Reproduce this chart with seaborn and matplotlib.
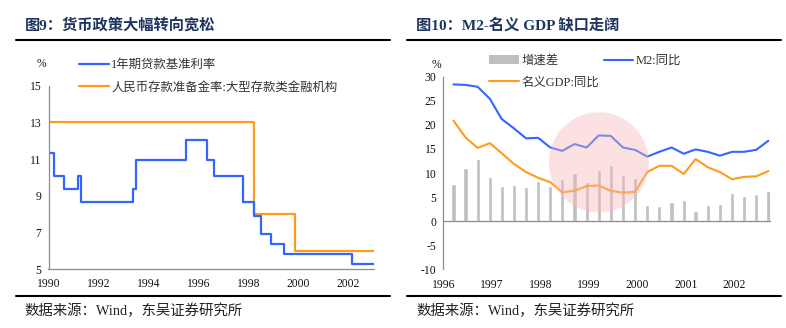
import numpy as np
import pandas as pd
import matplotlib
matplotlib.use("Agg")
import matplotlib.pyplot as plt
from matplotlib.lines import Line2D
from matplotlib.patches import Ellipse, Patch
import seaborn as sns

# ---------------- data ----------------
# 1-year benchmark lending rate, adjustment dates and new levels (%)
loan_dates = ['1990-01-01', '1990-03-21', '1990-08-21', '1991-03-10', '1991-04-21',
              '1993-05-15', '1993-07-11', '1995-07-01', '1996-05-01', '1996-08-23',
              '1997-10-23', '1998-03-25', '1998-07-01', '1998-12-07', '1999-06-10',
              '2002-02-21', '2003-01-15']
loan_rate = [11.34, 10.08, 9.36, 10.08, 8.64,
             9.36, 10.98, 12.06, 10.98, 10.08,
             8.64, 7.92, 6.93, 6.39, 5.85,
             5.31, 5.31]

# Required reserve ratio, large depository institutions (%)
rrr_dates = ['1990-01-01', '1998-03-21', '1999-11-21', '2003-01-15']
rrr_rate = [13, 8, 6, 6]

# Quarterly M2 and nominal GDP growth (% y/y), 1996Q1 - 2002Q3
quarters = pd.period_range('1996Q1', '2002Q3', freq='Q')
m2_yoy = [28.4, 28.3, 27.9, 25.4, 21.2, 19.3, 17.2, 17.3, 15.3, 14.6,
          16.0, 15.3, 17.8, 17.7, 15.3, 14.8, 13.4, 14.4, 15.3, 14.0,
          14.9, 14.4, 13.6, 14.4, 14.4, 14.8, 16.7]
gdp_yoy = [20.9, 17.4, 15.2, 16.2, 14.1, 11.9, 10.2, 9.0, 8.1, 6.0,
           6.3, 7.3, 7.4, 6.3, 5.9, 6.1, 10.2, 11.5, 11.5, 9.8,
           12.9, 11.2, 10.2, 8.7, 9.2, 9.3, 10.4]
gap = [7.7, 11.0, 12.9, 9.2, 7.2, 7.5, 7.0, 8.4, 7.4, 8.8,
       9.9, 8.1, 10.7, 11.6, 9.6, 8.9, 3.4, 3.1, 3.9, 4.3,
       2.1, 3.3, 3.5, 5.9, 5.2, 5.6, 6.3]

left_years = [1990, 1992, 1994, 1996, 1998, 2000, 2002]
left_yticks = [5, 7, 9, 11, 13, 15]
right_years = [1996, 1997, 1998, 1999, 2000, 2001, 2002]
right_yticks = [-10, -5, 0, 5, 10, 15, 20, 25, 30]

title_left = '图9：货币政策大幅转向宽松'
title_right = '图10：M2-名义 GDP 缺口走阔'
source = '数据来源：Wind，东吴证券研究所'


def decimal_year(ts):
    ts = pd.to_datetime(ts)
    return ts.year + (ts.dayofyear - 1) / 365.25


# ---------------- style ----------------
sns.set_theme(style='white')
plt.rcParams['font.family'] = ['Liberation Serif', 'Noto Sans CJK SC', 'DejaVu Sans']
plt.rcParams['axes.unicode_minus'] = False

BLUE = '#3366ff'
ORANGE = '#ff9c1a'
GREY_BAR = '#bfbfbf'
SPINE = '#8c8c8c'
NAVY = '#1f3560'
TXT = '#333333'
TICK_FS = 8.4

fig = plt.figure(figsize=(7.86, 3.28), dpi=100)
W, H = 786, 328


def fx(px):
    return px / W


def fy(py):
    return 1 - py / H


# ---------------- left panel ----------------
ax1 = fig.add_axes([fx(48.5), fy(269.3), fx(374.3 - 48.5), (269.3 - 85.7) / H])
loan_df = pd.DataFrame({'x': decimal_year(loan_dates), 'rate': loan_rate})
rrr_df = pd.DataFrame({'x': decimal_year(rrr_dates), 'rate': rrr_rate})
sns.lineplot(data=rrr_df, x='x', y='rate', ax=ax1, color=ORANGE, lw=1.6,
             drawstyle='steps-post', label='人民币存款准备金率:大型存款类金融机构')
sns.lineplot(data=loan_df, x='x', y='rate', ax=ax1, color=BLUE, lw=1.6,
             drawstyle='steps-post', label='1年期贷款基准利率')
ax1.set_xlim(1990, 2003.05)
ax1.set_ylim(5, 15)
ax1.set_xticks(left_years)
ax1.set_xticklabels([str(y) for y in left_years])
ax1.set_yticks(left_yticks)
ax1.set_xlabel('')
ax1.set_ylabel('')
for s in ['top', 'right']:
    ax1.spines[s].set_visible(False)
for s in ['left', 'bottom']:
    ax1.spines[s].set_color(SPINE)
    ax1.spines[s].set_linewidth(0.9)
ax1.tick_params(axis='both', direction='out', length=3, width=0.9, color=SPINE,
                labelsize=TICK_FS, labelcolor='#111111', pad=2)
ax1.tick_params(axis='x', pad=3)
h, l = ax1.get_legend_handles_labels()
ax1.legend(h[::-1], l[::-1], loc='upper left', bbox_to_anchor=(fx(79), fy(59)),
           bbox_transform=fig.transFigure, frameon=False, fontsize=8.9,
           handlelength=2.4, handletextpad=0.2, labelspacing=0.85,
           labelcolor=TXT, borderaxespad=0, borderpad=0)
fig.text(fx(41), fy(64), '%', fontsize=8.4, ha='center', va='center', color='#111111')

# ---------------- right panel ----------------
ax2 = fig.add_axes([fx(443.3), fy(269.3), fx(770 - 443.3), (269.3 - 76.7) / H])
qx = np.array([decimal_year(p.end_time.normalize() - pd.Timedelta(days=14)) for p in quarters])
q_df = pd.DataFrame({'x': qx, 'gap': gap, 'm2': m2_yoy, 'gdp': gdp_yoy})

sns.barplot(data=q_df, x='x', y='gap', ax=ax2, native_scale=True, width=0.36,
            color=GREY_BAR, errorbar=None, saturation=1, zorder=2)
sns.lineplot(data=q_df, x='x', y='m2', ax=ax2, color=BLUE, lw=1.5, zorder=3)
sns.lineplot(data=q_df, x='x', y='gdp', ax=ax2, color=ORANGE, lw=1.5, zorder=3)

# highlight of the 1998-2000 window
ax2.add_patch(Ellipse((1999.21, 12.2), width=2.06, height=20.8,
                      facecolor='#f7b8b8', alpha=0.42, lw=0, zorder=5))

ax2.set_xlim(1996, 2002.74)
ax2.set_ylim(-10, 30)
ax2.set_yticks(right_yticks)
ax2.set_yticklabels([str(v) for v in right_yticks])
ax2.set_xticks(right_years)
ax2.set_xticklabels([])
ax2.set_xlabel('')
ax2.set_ylabel('')
for s in ['top', 'right']:
    ax2.spines[s].set_visible(False)
ax2.spines['bottom'].set_position(('data', 0))
for s in ['left', 'bottom']:
    ax2.spines[s].set_color(SPINE)
    ax2.spines[s].set_linewidth(0.9)
ax2.spines['bottom'].set_zorder(4)
ax2.tick_params(axis='both', direction='out', length=3, width=0.9, color=SPINE,
                labelsize=TICK_FS, labelcolor='#111111', pad=2)

# year labels along the bottom of the panel
sec = ax2.secondary_xaxis('bottom')
sec.set_xticks(right_years)
sec.set_xticklabels([str(y) for y in right_years])
sec.tick_params(length=0, labelsize=TICK_FS, labelcolor='#111111', pad=7)
sec.spines['bottom'].set_visible(False)

handles = [Patch(facecolor=GREY_BAR, edgecolor='none'),
           Line2D([], [], color=ORANGE, lw=1.5),
           Line2D([], [], color=BLUE, lw=1.5)]
labels = ['增速差', '名义GDP:同比', 'M2:同比']
ax2.legend(handles, labels, loc='upper left', bbox_to_anchor=(fx(489), fy(55)),
           bbox_transform=fig.transFigure, frameon=False, fontsize=8.9, ncol=2,
           handlelength=2.4, handleheight=0.8, handletextpad=0.2,
           labelspacing=0.75, columnspacing=0.4, labelcolor=TXT,
           borderaxespad=0, borderpad=0)
fig.text(fx(436), fy(65), '%', fontsize=8.4, ha='center', va='center', color='#111111')

# ---------------- titles, rules and sources ----------------
fig.text(fx(25), fy(25), title_left, fontsize=11, fontweight='bold', color=NAVY,
         ha='left', va='center')
fig.text(fx(416), fy(25), title_right, fontsize=11, fontweight='bold', color=NAVY,
         ha='left', va='center')
for x0, x1 in [(16, 390), (407, 781)]:
    fig.add_artist(Line2D([fx(x0), fx(x1)], [fy(40), fy(40)], color='black', lw=1.5))
    fig.add_artist(Line2D([fx(x0), fx(x1)], [fy(296), fy(296)], color='black', lw=1.5))
fig.text(fx(24), fy(311), source, fontsize=10.4, color='#222222', ha='left', va='center')
fig.text(fx(416), fy(311), source, fontsize=10.4, color='#222222', ha='left', va='center')

fig.savefig('out.png', dpi=100)
